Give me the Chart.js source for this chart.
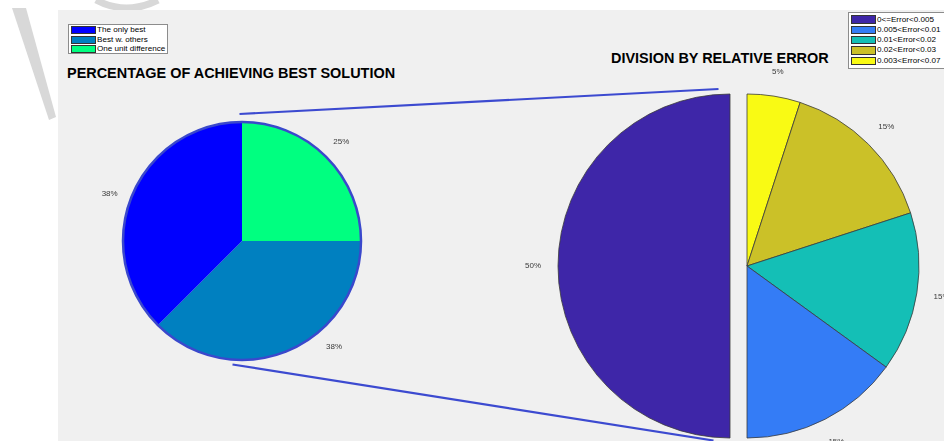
<!DOCTYPE html>
<html><head><meta charset="utf-8">
<script src="https://cdn.jsdelivr.net/npm/chart.js@4/dist/chart.umd.min.js"></script>
<style>
html,body{margin:0;padding:0;width:944px;height:441px;overflow:hidden;background:#fff;font-family:"Liberation Sans",Arial,sans-serif;position:relative;}
#wm{position:absolute;left:0;top:0;}
#panel{position:absolute;left:58px;top:10px;width:886px;height:431px;background:#f0f0f0;}
canvas{position:absolute;}
#c1{left:92px;top:91px;}
#c2{left:507px;top:26px;}
.title{position:absolute;font-weight:bold;font-size:14.45px;line-height:14.3px;color:#000;white-space:nowrap;}
.legend{position:absolute;background:#fff;border:1px solid #8c8c8c;box-sizing:border-box;}
.row{position:absolute;left:0;white-space:nowrap;color:#000;}
.sw{position:absolute;left:2px;width:23px;border:1px solid #333;}
.tx{position:absolute;left:28px;}
#conn{position:absolute;left:0;top:0;}
</style></head>
<body>
<svg id="wm" width="944" height="441">
  <polygon points="12,8 26,8 56,117 49,120" fill="#d8d8d8"/>
  <path d="M 96 0 Q 126 16 158 0" stroke="#d8d8d8" stroke-width="7" fill="none"/>
</svg>
<div id="panel"></div>
<div class="title" style="left:67px;top:66px;">PERCENTAGE OF ACHIEVING BEST SOLUTION</div>
<div class="title" style="left:611px;top:50.5px;">DIVISION BY RELATIVE ERROR</div>
<canvas id="c1" width="300" height="300"></canvas>
<canvas id="c2" width="480" height="480"></canvas>
<div id="leg1" class="legend" style="left:68px;top:24px;width:100px;height:30px;"></div>
<div id="leg2" class="legend" style="left:848px;top:12px;width:100px;height:57px;"></div>
<svg id="conn" width="944" height="441">
  <line x1="239.5" y1="114" x2="718.5" y2="89" stroke="#3c4ad0" stroke-width="2.2"/>
  <line x1="232.5" y1="364.5" x2="713.5" y2="440.5" stroke="#3c4ad0" stroke-width="2.2"/>
</svg>
<script>
// ---- data ----
const leftLabels = ['The only best', 'Best w. others', 'One unit difference'];
const leftValues = [37.5, 37.5, 25];
const rightLabels = ['0<=Error<0.005', '0.005<Error<0.01', '0.01<Error<0.02', '0.02<Error<0.03', '0.003<Error<0.07'];
const rightValues = [50, 15, 15, 15, 5];

// ---- styles ----
const leftColors = ['#0000ff', '#0080c0', '#00ff80'];
const rightColors = ['#3e26a8', '#347cf6', '#14bfb6', '#cbc128', '#f9fa14'];

function buildLegend(id, labels, colors, rowH, top0, swH, fontSize) {
  const box = document.getElementById(id);
  labels.forEach((lab, i) => {
    const r = document.createElement('div');
    r.className = 'row';
    r.style.top = (top0 + i * rowH) + 'px';
    r.style.height = rowH + 'px';
    r.style.width = '100%';
    const s = document.createElement('div');
    s.className = 'sw';
    s.style.background = colors[i];
    s.style.height = (swH - 2) + 'px';
    s.style.top = ((rowH - swH) / 2) + 'px';
    const t = document.createElement('div');
    t.className = 'tx';
    t.textContent = lab;
    t.style.fontSize = fontSize + 'px';
    t.style.lineHeight = rowH + 'px';
    t.style.top = '0px';
    r.appendChild(s); r.appendChild(t);
    box.appendChild(r);
  });
}
buildLegend('leg1', leftLabels, leftColors, 9.6, 0.2, 8, 8.1);
buildLegend('leg2', rightLabels, rightColors, 10.3, 1.5, 8.5, 8.1);

const pieDecor = {
  id: 'pieDecor',
  beforeDatasetDraw(chart, args, opts) {
    const ctx = chart.ctx;
    const n = args.meta.data.length;
    args.meta.data.forEach((el, k) => {
      const orig = n - 1 - k;
      const d = (opts.explode && opts.explode[orig]) || 0;
      const mid = (el.startAngle + el.endAngle) / 2;
      ctx.save();
      ctx.translate(Math.cos(mid) * d, Math.sin(mid) * d);
      el.draw(ctx, chart.chartArea);
      ctx.restore();
    });
    return false;
  },
  afterDatasetsDraw(chart, args, opts) {
    const ctx = chart.ctx;
    const meta = chart.getDatasetMeta(0);
    const vals = chart.data.datasets[0].data;
    const total = vals.reduce((a, b) => a + b, 0);
    const n = meta.data.length;
    if (opts.outline) {
      const el = meta.data[0];
      ctx.save();
      ctx.beginPath();
      ctx.arc(el.x, el.y, el.outerRadius, 0, Math.PI * 2);
      ctx.strokeStyle = opts.outline;
      ctx.lineWidth = opts.outlineWidth;
      ctx.stroke();
      ctx.restore();
    }
    ctx.save();
    ctx.font = opts.fontSize + 'px "Liberation Sans", Arial, sans-serif';
    ctx.fillStyle = '#3a3a3a';
    ctx.textAlign = 'center';
    ctx.textBaseline = 'middle';
    meta.data.forEach((el, k) => {
      const orig = n - 1 - k;
      const d = (opts.explode && opts.explode[orig]) || 0;
      const shift = ((opts.labelShift && opts.labelShift[orig]) || 0) * Math.PI / 180;
      const mid = (el.startAngle + el.endAngle) / 2;
      const cx = el.x + Math.cos(mid) * d;
      const cy = el.y + Math.sin(mid) * d;
      const a = mid + shift;
      const r = el.outerRadius * opts.labelFactor;
      const txt = Math.round(vals[k] / total * 100) + '%';
      ctx.fillText(txt, cx + Math.cos(a) * r, cy + Math.sin(a) * r);
    });
    ctx.restore();
  }
};

function makePie(id, labels, values, colors, radius, borderWidth, borderColor, decor) {
  return new Chart(document.getElementById(id), {
    type: 'pie',
    data: {
      labels: labels.slice().reverse(),
      datasets: [{
        data: values.slice().reverse(),
        backgroundColor: colors.slice().reverse(),
        borderWidth: borderWidth,
        borderColor: borderColor,
        radius: radius
      }]
    },
    options: {
      responsive: false,
      animation: false,
      events: [],
      layout: { padding: 0 },
      plugins: { legend: { display: false }, tooltip: { enabled: false }, pieDecor: decor }
    },
    plugins: [pieDecor]
  });
}

makePie('c1', leftLabels, leftValues, leftColors, 119, 0, 'rgba(0,0,0,0)',
  { outline: '#3a48cc', outlineWidth: 2.5, labelFactor: 1.18, labelShift: [-3, -18.5, 0], fontSize: 8 });
makePie('c2', rightLabels, rightValues, rightColors, 172, 0.8, '#3a3a3a',
  { explode: [17, 0, 0, 0, 0], labelFactor: 1.145, fontSize: 8 });
</script>
</body></html>
